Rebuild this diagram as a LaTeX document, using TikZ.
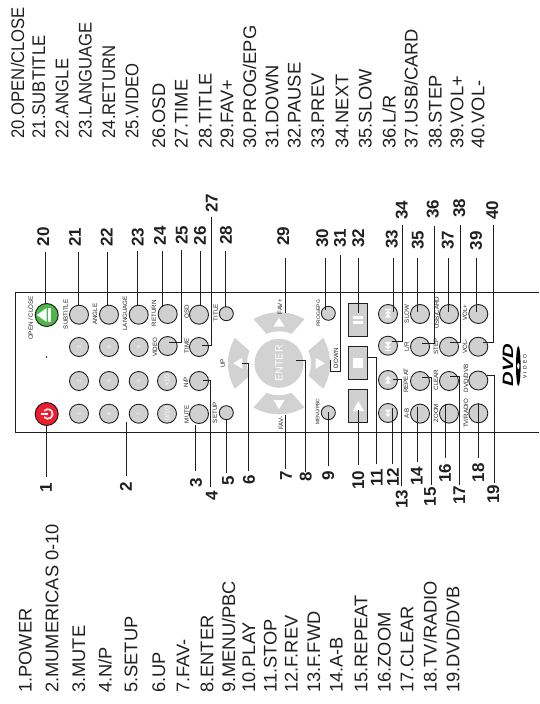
\documentclass[tikz,border=0pt]{standalone}
\usepackage{fontspec}
\setmainfont{Liberation Sans}
\usetikzlibrary{calc,shapes.geometric}
\definecolor{ink}{HTML}{231F20}
\definecolor{keygray}{HTML}{D0D0D0}
\definecolor{padgray}{HTML}{D2D2D2}
\definecolor{powerred}{HTML}{ED1C2E}
\definecolor{openGreen}{HTML}{4DB848}
\tikzset{
  key/.style={circle,draw=ink,line width=.9pt,fill=keygray,minimum size=19pt,inner sep=0pt,text=white,font=\fontsize{5}{5}\selectfont,rotate=90},
  smallkey/.style={key,minimum size=14pt},
  boxkey/.style={draw=ink,line width=1pt,fill=keygray,minimum width=19pt,minimum height=33pt,inner sep=0pt},
  keycap/.style={font=\fontsize{6.2}{6.2}\selectfont,text=ink,rotate=90,inner sep=0pt},
  leader/.style={draw=ink,line width=.9pt},
  num/.style={font=\fontsize{17}{17}\selectfont\bfseries,text=ink,rotate=90,inner sep=0pt},
  item/.style={font=\fontsize{18.3}{18.3}\selectfont,text=ink,rotate=90,anchor=base west,inner sep=0pt},
  narrowitem/.style={item,xscale=.91},
}
% straight call-out: number, label x, label y, line x, line y1, line y2
\newcommand\callout[6]{%
  \node[num] (n#1) at (#2,#3) {#1};
  \coordinate (s#1) at (#4,#5);
  \coordinate (e#1) at (#4,#6);
  \draw[leader] (s#1) -- (e#1);}
% elbow call-out: number, label x, label y, line x, free y, corner y, button-side x
\newcommand\elbow[7]{%
  \node[num] (n#1) at (#2,#3) {#1};
  \coordinate (s#1) at (#4,#5);
  \coordinate (e#1) at (#7,#6);
  \draw[leader] (s#1) |- (e#1);}
\newcommand\twotri[2]{% double triangle glyph, at node #1, direction sign #2
  \fill[white] ($(#1)+(-3,#2*-0.5)$) -- ($(#1)+(3,#2*-0.5)$) -- ($(#1)+(0,#2*-4)$) -- cycle;
  \fill[white] ($(#1)+(-3,#2*3.5)$) -- ($(#1)+(3,#2*3.5)$) -- ($(#1)+(0,#2*-0.5)$) -- cycle;}
\begin{document}
\begin{tikzpicture}[x=1pt,y=-1pt]
\useasboundingbox (0,0) rectangle (539,704);
% remote outline
\coordinate (pa) at (539,292.7);
\coordinate (pb) at (15,292.7);
\coordinate (pc) at (15,432.7);
\coordinate (pd) at (539,432.7);
\draw[ink,line width=1pt] (pa) -- (pb) -- (pc) -- (pd);
\fill[ink] (46.5,357) circle (.8);
% D-pad
\begin{scope}[shift={(279,363.3)}]
\foreach \a in {0,90,180,270}{
  \fill[padgray] (\a-30:51pt) arc[start angle=\a-30,end angle=\a+30,radius=51pt] -- (\a+23:32pt) arc[start angle=\a+23,end angle=\a-23,radius=32pt] -- cycle;
  \fill[white,rotate=\a] (45.7pt,0pt) -- (36.7pt,5.5pt) -- (36.7pt,-5.5pt) -- cycle;
}
\end{scope}
\node[circle,fill=padgray,minimum size=49pt,inner sep=0pt,text=white,rotate=90,font=\fontsize{10.6}{10.6}\selectfont] (enter) at (279,363.3) {ENTER};
% power and eject
\node[key,fill=powerred,minimum size=23pt,line width=1pt] (bpower) at (46.7,414) {};
\draw[white,line width=1.6pt] ($(bpower)+(1.2,0)+(-140:4.8pt)$) arc[start angle=-140,end angle=140,radius=4.8pt];
\draw[white,line width=1.6pt] ($(bpower)+(-6,0)$) -- ($(bpower)+(1,0)$);
\node[key,fill=openGreen,minimum size=23pt,line width=1pt] (bopen) at (46.7,315) {};
\fill[white] ($(bopen)+(-10,0)$) -- ($(bopen)+(0,-7)$) -- ($(bopen)+(0,7)$) -- cycle;
\fill[white] ($(bopen)+(1.7,-7)$) rectangle ($(bopen)+(4,7)$);
% top row
\node[key] (bsub) at (79,314.7) {};
\node[key] (bang) at (109,314.7) {};
\node[key] (blang) at (138.7,314.7) {};
\node[key] (bret) at (167.7,314) {};
\node[key] (bosd) at (199,314.7) {};
\node[smallkey] (btitle) at (226.3,313.7) {};
% numbers
\node[key] (k3) at (79,347) {3};
\node[key] (k6) at (109,347) {6};
\node[key] (k9) at (138.7,347) {9};
\node[key] (bvid) at (167.7,346) {};
\node[key] (btime) at (199,347) {};
\node[key] (k2) at (79,381) {2};
\node[key] (k5) at (109,381) {5};
\node[key] (k8) at (138.7,381) {8};
\node[key,font=\fontsize{7}{7}\selectfont] (kp10) at (167,381) {+10};
\node[key] (bnp) at (199,381) {};
\node[key] (k1) at (79,413.7) {1};
\node[key] (k4) at (109,413.7) {4};
\node[key] (k7) at (138.7,413.7) {7};
\node[key,font=\fontsize{7}{7}\selectfont] (k0) at (167,413.7) {0/10};
\node[key] (bmute) at (199,414) {};
\node[smallkey] (bsetup) at (226.3,412.7) {};
\node[smallkey] (bprog) at (328.3,313.3) {};
\node[smallkey] (bmenu) at (328.3,412.7) {};
% transport boxes
\node[boxkey] (bpause) at (357.5,319.5) {};
\fill[white] ($(bpause)+(-4.8,-3.6)$) rectangle ($(bpause)+(5.2,-.8)$);
\fill[white] ($(bpause)+(-4.8,1.6)$) rectangle ($(bpause)+(5.2,4.4)$);
\node[boxkey] (bstop) at (357.5,363) {};
\fill[white] ($(bstop)+(-5,-5)$) rectangle ($(bstop)+(5,5)$);
\node[boxkey] (bplay) at (357.5,406.3) {};
\fill[white] ($(bplay)+(0.8,-5.3)$) -- ($(bplay)+(6.3,4.7)$) -- ($(bplay)+(-4.7,4.7)$) -- cycle;
% right block of round keys
\node[key] (bprev) at (388,314) {};
\node[key] (bnext) at (388,345.7) {};
\node[key] (bfwd) at (388,380) {};
\node[key] (brev) at (388,413) {};
\twotri{bprev}{1}
\twotri{bnext}{-1}
\twotri{bfwd}{1}
\twotri{brev}{-1}
\fill[white] ($(bprev)+(-3,-4.8)$) rectangle ($(bprev)+(3,-4)$);
\fill[white] ($(bnext)+(-3,4)$) rectangle ($(bnext)+(3,4.8)$);
\node[key] (bslow) at (420,314) {};
\node[key] (blr) at (420,346.7) {};
\node[key] (brep) at (420,381) {};
\node[key] (bab) at (420,413.6) {};
\node[key] (busb) at (449,314) {};
\node[key] (bstep) at (449,346.7) {};
\node[key] (bclear) at (449,381) {};
\node[key] (bzoom) at (449,413.6) {};
\node[key] (bvolp) at (478.3,314) {};
\node[key] (bvolm) at (478.3,346.7) {};
\node[key] (bdvd) at (478.3,380.5) {};
\node[key] (btv) at (478.3,413.3) {};
% captions
\node[keycap] (c1) at (30.7,318) {OPEN / CLOSE};
\node[keycap] (c2) at (65.7,314.3) {SUBTITLE};
\node[keycap] (c3) at (95,314.3) {ANGLE};
\node[keycap] (c4) at (125,313.3) {LANGUAGE};
\node[keycap] (c5) at (154,313.3) {RETURN};
\node[keycap] (c6) at (186.7,311.7) {OSD};
\node[keycap] (c7) at (215.7,312.7) {TITLE};
\node[keycap] (c8) at (155,347.3) {VIDEO};
\node[keycap] (c9) at (186.7,346) {TIME};
\node[keycap] (c10) at (186,382.3) {N/P};
\node[keycap] (c11) at (186.7,414.3) {MUTE};
\node[keycap] (c12) at (215,412.7) {SETUP};
\node[keycap] (c13) at (222.7,363.3) {UP};
\node[keycap] (c14) at (280,306.7) {FAV+};
\node[keycap] (c15) at (281,423.3) {FAV-};
\node[keycap,font=\fontsize{5}{5}\selectfont] (c16) at (318.3,313.3) {PROG/EPG};
\node[keycap,font=\fontsize{5}{5}\selectfont] (c17) at (317.7,411.7) {MENU/PBC};
\node[keycap] (c18) at (336,358.3) {DOWN};
\node[keycap] (c19) at (406.7,413.3) {A-B};
\node[keycap] (c20) at (406,380.7) {REPEAT};
\node[keycap] (c21) at (406.7,314) {SLOW};
\node[keycap] (c22) at (406.7,346.7) {L/R};
\node[keycap] (c23) at (436,413.3) {ZOOM};
\node[keycap] (c24) at (436,380) {CLEAR};
\node[keycap] (c25) at (436.7,312.7) {USB/CARD};
\node[keycap] (c26) at (436,346.7) {STEP};
\node[keycap] (c27) at (465,312.7) {VOL+};
\node[keycap] (c28) at (465,346.7) {VOL-};
\node[keycap] (c29) at (466,413.3) {TV/RADIO};
\node[keycap] (c30) at (466,378.3) {DVD/DVB};
% DVD logo
\node[rotate=90,inner sep=0pt,font=\fontsize{15}{15}\selectfont\bfseries\itshape,text=black,xscale=1.35] (dvdword) at (508,365) {DVD};
\node[ellipse,fill=black,minimum width=40pt,minimum height=4.6pt,inner sep=0pt,rotate=90] (disc) at (518.3,366) {};
\fill[white] (disc.center) ellipse (1.2 and 3);
\node[rotate=90,inner sep=0pt,text=black,font=\fontsize{5}{5}\selectfont] (dvdvideo) at (525,366.7) {\addfontfeature{LetterSpace=45}VIDEO};
% call-outs, lower side
\callout{1}{46}{488}{46}{425}{477}
\callout{2}{126}{487}{126}{421.7}{476}
\callout{3}{196}{483}{195}{425}{470.7}
\elbow{4}{211.7}{495.7}{210}{487}{380}{203}
\callout{5}{228}{480.7}{226.7}{420}{473}
\elbow{6}{249}{480}{248.3}{470.7}{363.3}{241.7}
\callout{7}{286}{476}{285.3}{415}{469.3}
\elbow{8}{305.8}{477}{305}{471.7}{360}{295.7}
\callout{9}{328.3}{476}{328.3}{412}{465.7}
\callout{10}{358.3}{480}{358.3}{410}{465}
\elbow{11}{376.7}{478}{376}{464.3}{357.3}{366.7}
\callout{12}{393}{477}{392.3}{408}{464}
\elbow{13}{401.7}{499}{401.7}{486}{379.3}{393}
\callout{14}{416.7}{476}{417.7}{406.7}{461.7}
\elbow{15}{430}{496.7}{431}{485}{377.7}{421.7}
\callout{16}{445}{473}{445.7}{404}{458.3}
\elbow{17}{459.3}{495}{459.3}{485}{376.7}{450}
\callout{18}{478.3}{472.7}{478}{403}{458.3}
\elbow{19}{493.3}{494}{494.3}{482.7}{375.7}{486.7}
% call-outs, upper side
\callout{20}{43.3}{236.7}{45}{251.7}{304}
\callout{21}{75}{237}{78.7}{251.7}{305}
\callout{22}{106.7}{237}{107.7}{251.7}{305}
\callout{23}{137.7}{237}{137.7}{251}{305}
\callout{24}{160}{235.7}{162}{251}{306.7}
\elbow{25}{181.7}{235}{181.7}{250}{342.7}{169.3}
\callout{26}{200}{235.7}{200.3}{251}{305}
\elbow{27}{211.7}{203}{211.7}{216.7}{345.7}{201.7}
\callout{28}{226}{235}{225.7}{251}{306.7}
\callout{29}{283.3}{236}{285}{258.3}{312.7}
\callout{30}{322.3}{238.3}{325.7}{258}{310}
\node[num] (n31) at (340,238) {31};
\coordinate (s31) at (340,255);
\coordinate (e31) at (330,360);
\draw[leader] (s31) |- (330,371.7) -- (e31);
\callout{32}{358.3}{238.3}{358.7}{258.3}{313}
\callout{33}{391.7}{239.3}{393}{258.3}{311.7}
\elbow{34}{401.7}{210}{402.3}{225}{341.7}{391.7}
\callout{35}{417.7}{240}{417.7}{258.3}{311.7}
\elbow{36}{432.7}{209.3}{434}{226}{343.3}{421.7}
\callout{37}{447.7}{240}{448.3}{258.3}{311.7}
\elbow{38}{459.3}{208.3}{460.7}{225.3}{342.3}{450}
\callout{39}{476}{240.7}{476.7}{258.3}{311.7}
\elbow{40}{492.3}{210}{493.3}{225.3}{342.3}{483.3}
% legend, lower column
\node[item] (t1) at (31.7,693) {1.POWER};
\node[item] (t2) at (58.3,693) {2.MUMERICAS 0-10};
\node[item] (t3) at (85,693) {3.MUTE};
\node[item] (t4) at (111.7,693) {4.N/P};
\node[item] (t5) at (137.3,693) {5.SETUP};
\node[item] (t6) at (165,693) {6.UP};
\node[item] (t7) at (189.3,693) {7.FAV-};
\node[item] (t8) at (213.3,693) {8.ENTER};
\node[item] (t9) at (235,693) {9.MENU/PBC};
\node[item] (t10) at (255,693) {10.PLAY};
\node[item] (t11) at (276.7,693) {11.STOP};
\node[item] (t12) at (297.7,693) {12.F.REV};
\node[item] (t13) at (320,693) {13.F.FWD};
\node[item] (t14) at (342.7,693) {14.A-B};
\node[item] (t15) at (367.3,693) {15.REPEAT};
\node[item] (t16) at (390.7,693) {16.ZOOM};
\node[item] (t17) at (413.3,693) {17.CLEAR};
\node[item] (t18) at (436.7,693) {18.TV/RADIO};
\node[item] (t19) at (459.3,693) {19.DVD/DVB};
% legend, upper column
\node[narrowitem] (t20) at (24,138.5) {20.OPEN/CLOSE};
\node[narrowitem] (t21) at (45,138.5) {21.SUBTITLE};
\node[narrowitem] (t22) at (68.3,138.5) {22.ANGLE};
\node[narrowitem] (t23) at (91.7,138.5) {23.LANGUAGE};
\node[narrowitem] (t24) at (115,138.5) {24.RETURN};
\node[narrowitem] (t25) at (138.3,138.5) {25.VIDEO};
\node[item] (t26) at (165,149) {26.OSD};
\node[item] (t27) at (187.7,149) {27.TIME};
\node[item] (t28) at (211.7,149) {28.TITLE};
\node[item] (t29) at (233.3,149) {29.FAV+};
\node[item] (t30) at (256,149) {30.PROG/EPG};
\node[item] (t31) at (278.3,149) {31.DOWN};
\node[item] (t32) at (300.7,149) {32.PAUSE};
\node[item] (t33) at (324,149) {33.PREV};
\node[item] (t34) at (348.3,149) {34.NEXT};
\node[item] (t35) at (371.7,149) {35.SLOW};
\node[item] (t36) at (395.7,149) {36.L/R};
\node[item] (t37) at (417.7,149) {37.USB/CARD};
\node[item] (t38) at (441.7,149) {38.STEP};
\node[item] (t39) at (463.3,149) {39.VOL+};
\node[item] (t40) at (484.3,149) {40.VOL-};
\end{tikzpicture}
\end{document}
